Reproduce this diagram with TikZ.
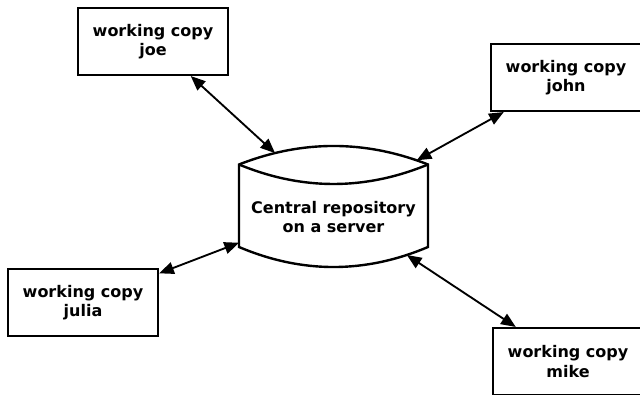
\documentclass[tikz,border=0pt]{standalone}
\usepackage{fontspec}
\setmainfont{DejaVu Sans}
\usetikzlibrary{arrows.meta,intersections}

\tikzset{
    wcopy/.style={draw, line width=1.8pt, minimum width=112.5pt, minimum height=50pt, inner sep=0pt, align=center, font=\fontsize{12}{14.5}\selectfont\bfseries},
    reptext/.style={inner sep=0pt, align=center, font=\fontsize{12}{14.5}\selectfont\bfseries},
    tank/.style={line width=1.8pt, line join=miter},
    link/.style={line width=1.4pt, {Triangle[length=11pt,width=9pt]}-{Triangle[length=11pt,width=9pt]}}
}

\begin{document}
\begin{tikzpicture}[x=0.75pt, y=-0.75pt]
        \useasboundingbox (0, 0) rectangle (640, 395);

        \draw[tank, name path=tankline] (239, 164.5) .. controls (302, 139.8) and (365, 139.8) .. (428, 164.5) -- (428, 247) .. controls (365, 273.7) and (302, 273.7) .. (239, 247) -- cycle;
        \draw[tank] (239, 164.5) .. controls (302, 190.5) and (365, 190.5) .. (428, 164.5);
        \coordinate (tankmid) at (333.5, 206.5);

        \node[reptext] (repo) at (333.5, 217) {Central repository\\on a server};

        \node[wcopy] (joe) at (153, 41.5) {working copy\\joe};
        \node[wcopy] (john) at (566, 77.5) {working copy\\john};
        \node[wcopy] (julia) at (83, 302.5) {working copy\\julia};
        \node[wcopy] (mike) at (568, 361.5) {working copy\\mike};

        \foreach \who in {joe, john, julia, mike} {
            \path[name path=ray] (\who) -- (tankmid);
            \draw[link, name intersections={of=ray and tankline}] (\who) -- (intersection-1);
        }
\end{tikzpicture}
\end{document}
